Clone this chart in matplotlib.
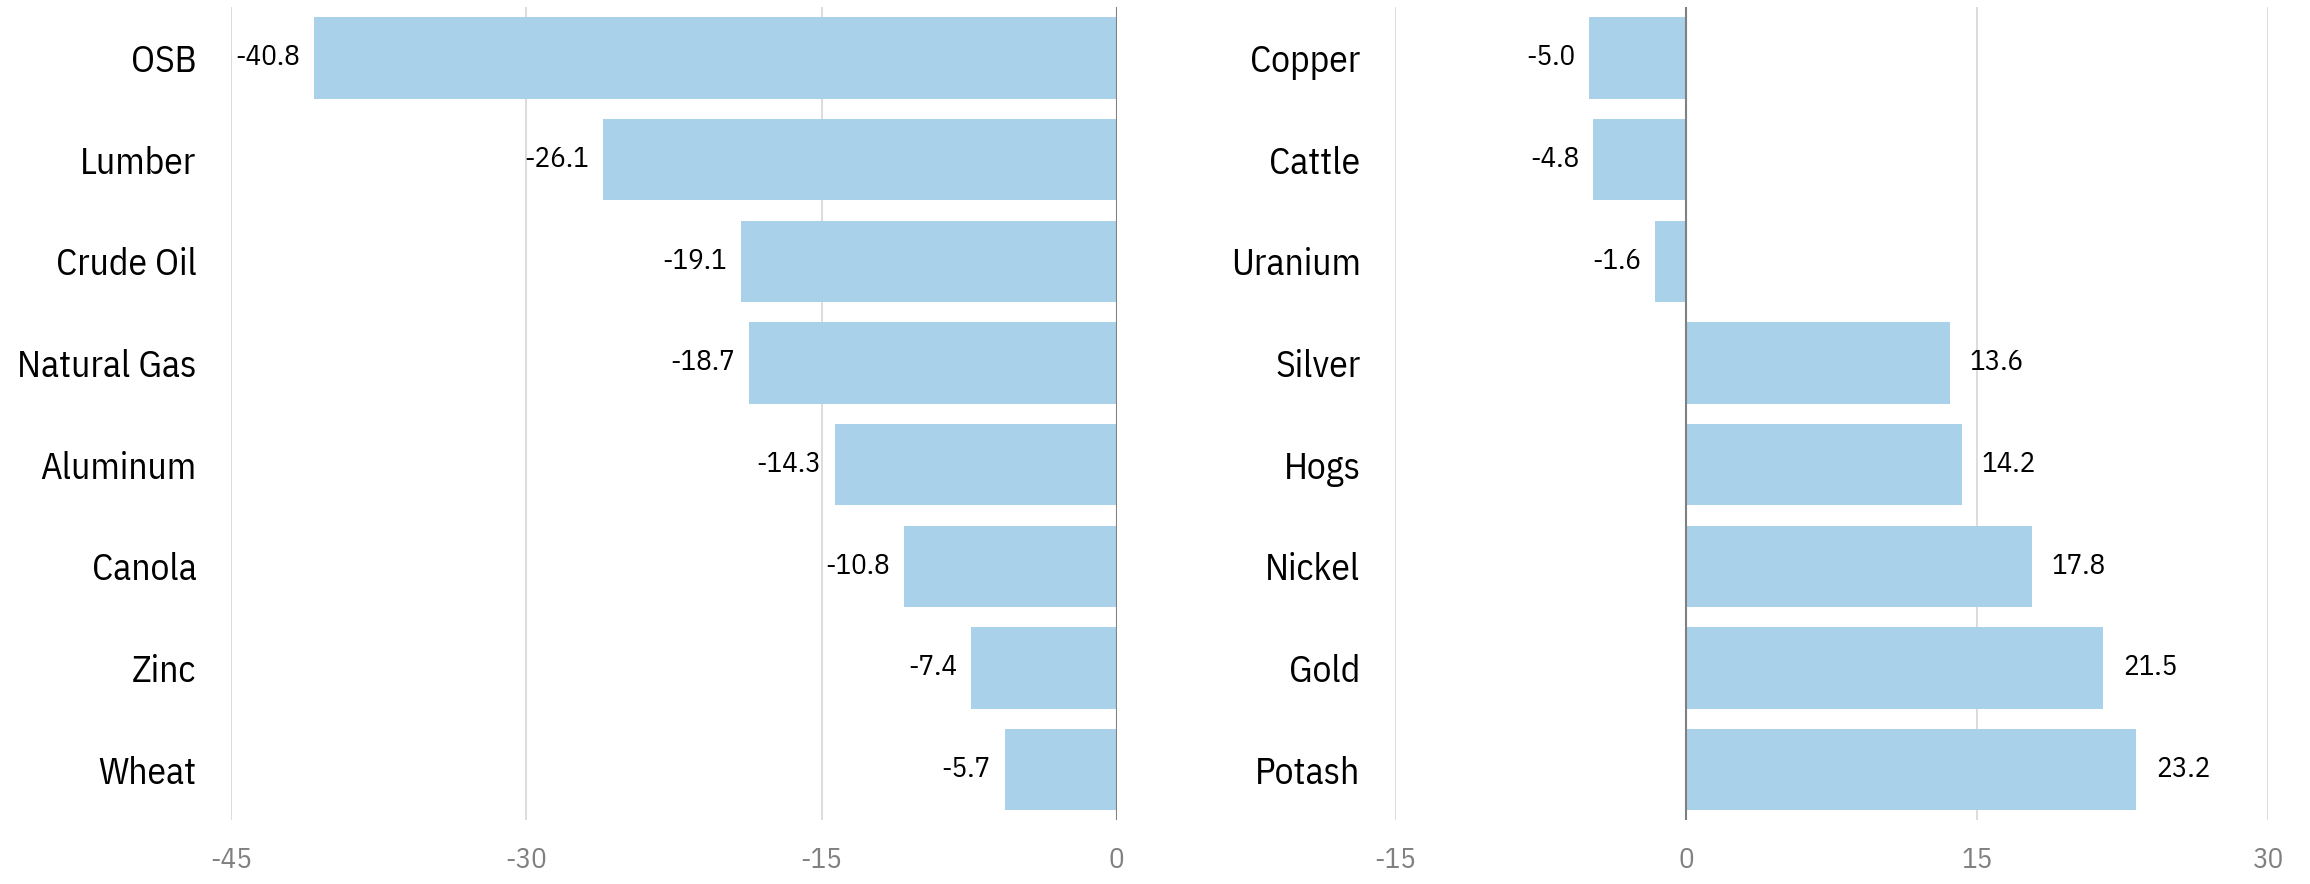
import matplotlib
matplotlib.use("Agg")
import matplotlib.pyplot as plt

plt.rcParams['font.family'] = ['IBM Plex Sans Condensed', 'Noto Sans', 'DejaVu Sans']

left_names = ['OSB', 'Lumber', 'Crude Oil', 'Natural Gas', 'Aluminum', 'Canola', 'Zinc', 'Wheat']
left_vals = [-40.8, -26.1, -19.1, -18.7, -14.3, -10.8, -7.4, -5.7]
right_names = ['Copper', 'Cattle', 'Uranium', 'Silver', 'Hogs', 'Nickel', 'Gold', 'Potash']
right_vals = [-5.0, -4.8, -1.6, 13.6, 14.2, 17.8, 21.5, 23.2]
left_ticks = [-45, -30, -15, 0]
right_ticks = [-15, 0, 15, 30]

bar_color = '#a9d1ea'
grid_color = '#d9d9d9'
zero_color = '#808080'

fig = plt.figure(figsize=(23.1, 8.84), dpi=100)
ax_l = fig.add_axes([0.1001, 0.072, 0.3833, 0.92])
ax_r = fig.add_axes([0.604, 0.072, 0.378, 0.92])


def draw_panel(ax, names, vals, ticks):
    ypos = list(range(len(names)))
    ax.barh(ypos, vals, height=0.8, color=bar_color, zorder=2)
    ax.set_xlim(ticks[0], ticks[-1])
    ax.set_ylim(len(names) - 0.5, -0.5)
    ax.set_yticks(ypos)
    ax.set_yticklabels(names, fontsize=27)
    ax.set_xticks(ticks)
    ax.set_xticklabels([str(t) for t in ticks], fontsize=21, color='#808080')
    ax.tick_params(axis='both', length=0)
    ax.tick_params(axis='y', pad=25)
    ax.tick_params(axis='x', pad=19)
    for s in ax.spines.values():
        s.set_visible(False)
    for t in ticks:
        if t == 0:
            ax.axvline(0, color=zero_color, lw=1.5, zorder=3)
        else:
            ax.axvline(t, color=grid_color, lw=1.3, zorder=1)
    for y, v in zip(ypos, vals):
        if v < 0:
            ax.annotate(f'{v:.1f}', (v, y), xytext=(-10, 0), textcoords='offset points',
                        ha='right', va='center', fontsize=21, color='black')
        else:
            ax.annotate(f'{v:.1f}', (v, y), xytext=(14, 0), textcoords='offset points',
                        ha='left', va='center', fontsize=21, color='black')


draw_panel(ax_l, left_names, left_vals, left_ticks)
draw_panel(ax_r, right_names, right_vals, right_ticks)

fig.savefig('out.png', dpi=100)
